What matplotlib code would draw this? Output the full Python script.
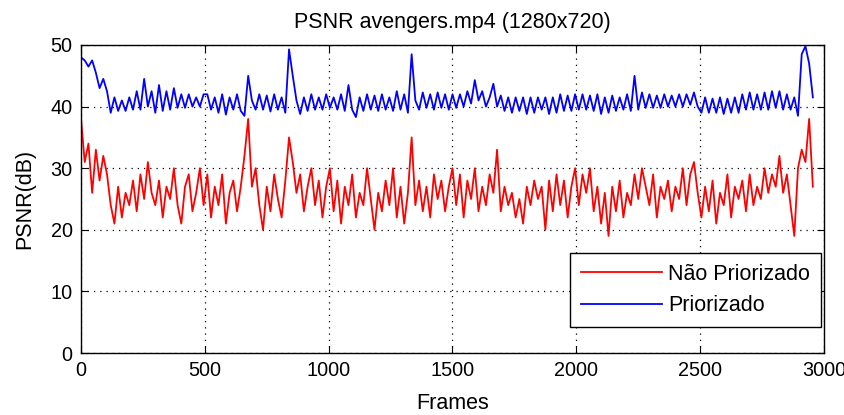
import numpy as np
import matplotlib
matplotlib.use("Agg")
import matplotlib.pyplot as plt

# ---- data (one value every 15 frames) ----
frame_step = 15

nao_priorizado = [
    38, 31, 34, 26, 33, 28, 32, 29, 24, 21,
    27, 22, 26, 24, 28, 23, 29, 25, 31, 26, 24,
    28, 22, 27, 25, 30, 24, 21, 27, 29, 23, 26, 30, 24,
    29, 22, 27, 24, 29, 21, 26, 28, 23, 27, 32, 38, 27, 30, 24, 20, 27, 23, 29, 25,
    22, 28, 35, 31, 26, 29, 23, 27, 30, 24, 28, 22, 27, 30,
    23, 28, 21, 27, 24, 29, 22, 26, 24, 30, 25, 20, 26, 23, 28, 24, 30, 22, 27, 21,
    26, 35, 24, 28, 23, 27, 22, 29, 25, 28, 23, 27, 30,
    24, 29, 22, 28, 25, 30, 23, 27, 24, 29, 26, 33, 23, 27, 24, 26, 22, 25, 21, 27,
    24, 28, 25, 27, 20, 28, 23, 29, 24, 28, 22, 27, 30,
    24, 29, 26, 30, 23, 27, 21, 26, 19, 27, 23, 28, 22, 26, 24, 29, 25, 30, 27, 24,
    29, 22, 27, 25, 28, 23, 27, 25, 30, 24, 29, 31, 26, 22,
    27, 23, 28, 21, 26, 24, 29, 22, 27, 25, 28, 23, 29, 24, 27, 25, 30, 26, 29, 27,
    32, 26, 29, 24, 19, 30, 33, 31, 38, 27,
]

priorizado = [
    48, 47.5, 46.5, 47.5, 45.5, 43, 44.5, 42.5, 39, 41.5,
    39.3, 41, 39.3, 41.5, 39.5, 42.5, 39.5, 44.5, 40, 42.5,
    39, 43.5, 39.3, 42.5, 39.5, 43, 39.8, 42, 39.8, 42, 40, 41.5, 40, 42,
    42, 39.5, 41.5, 39, 42, 38.7, 41.5, 39.5, 42, 39.3, 38.5, 45, 41, 39.5, 42, 39.5,
    41.8, 39.2, 42, 39.5, 41.5, 39, 49.3, 45, 41, 38.8, 41.5, 39.3, 42, 39.5, 41.5, 39.5,
    42, 39.8,
    41.5, 39.5, 42, 39.3, 43.5, 39.5, 38.3, 41.5, 39.3, 42, 39.5, 41.8, 39.3, 42, 39.5,
    41.5, 39.3, 42.5, 39.5, 42, 39, 48.5, 41, 39.5, 42.3, 39.8, 42, 39.5, 42.3, 39.8,
    42, 39.5, 42,
    39.8, 42, 40, 42.5, 40.5, 44.3, 41, 42.5, 40, 41.5, 43.7, 40, 41.8, 39.3, 41.5,
    39, 41.5, 39.3, 41.5, 38.8, 41.5, 39, 41.5, 39.5, 41.5, 38.8, 41.5, 39, 42, 39.3,
    41.8, 39.3, 42,
    39.5, 42, 39.5, 41.8, 39.3, 42, 38.8, 41.5, 39, 41.8, 39.3, 41.5, 39.5, 42, 39.3,
    45, 39.5, 42.3, 39.8, 42, 39.8, 41.8, 39.8, 42, 40, 41.8, 40, 42, 40, 42, 40.3,
    42.3, 40, 39,
    41.5, 39, 41.3, 39, 41.5, 38.8, 41.3, 39, 41.5, 39, 42, 39.5, 42.3, 39.5, 42,
    39.5, 42.3, 39.5, 42.5, 39.8, 42.5, 39.5, 42, 39.5, 41.5, 38.5, 48.5, 49.8, 47, 41.5,
]

series_labels = ["Não Priorizado", "Priorizado"]
title = "PSNR avengers.mp4 (1280x720)"
x_ticks = [0, 500, 1000, 1500, 2000, 2500, 3000]
y_ticks = [0, 10, 20, 30, 40, 50]

frames_red = np.arange(len(nao_priorizado)) * frame_step
frames_blue = np.arange(len(priorizado)) * frame_step

plt.rcParams['font.family'] = ['Liberation Sans', 'DejaVu Sans']
FS_TICK = 14.3
FS_TEXT = 15.5

fig = plt.figure(figsize=(8.45, 4.15), dpi=100)
ax = fig.add_axes([81 / 845, 1 - 353 / 415, 743 / 845, 308 / 415])

ax.plot(frames_red, nao_priorizado, color='#ff0000', lw=1.3, label=series_labels[0])
ax.plot(frames_blue, priorizado, color='#0000ff', lw=1.3, label=series_labels[1])

ax.set_xlim(0, 3000)
ax.set_ylim(0, 50)
ax.set_xticks(x_ticks)
ax.set_yticks(y_ticks)
ax.grid(True, color='black', linestyle=(0, (1, 4)), linewidth=0.9)
ax.tick_params(direction='in', length=5, top=True, right=True, labelsize=FS_TICK, pad=6)
for s in ax.spines.values():
    s.set_color('black')
    s.set_linewidth(1.0)

ax.set_title(title, fontsize=FS_TEXT, pad=12)
ax.set_xlabel("Frames", fontsize=FS_TEXT, labelpad=9)
ax.set_ylabel("PSNR(dB)", fontsize=FS_TEXT, labelpad=11)

leg = ax.legend(loc='lower right', bbox_to_anchor=(0.996, 0.084), borderaxespad=0,
                fontsize=FS_TEXT, fancybox=False, framealpha=1, edgecolor='black',
                handlelength=3.75, handletextpad=0.3, labelspacing=0.5, borderpad=0.5)
leg.get_frame().set_linewidth(1.0)

fig.savefig("out.png", dpi=100)
